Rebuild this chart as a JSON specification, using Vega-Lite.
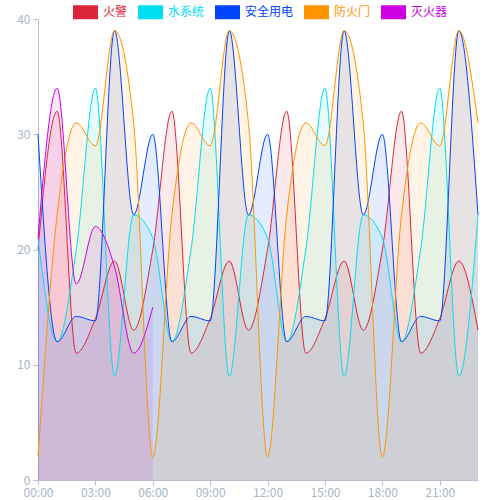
{
  "$schema": "https://vega.github.io/schema/vega-lite/v6.json",
  "autosize": {"type": "none"},
  "width": 440,
  "height": 461,
  "padding": {"left": 38, "top": 19, "right": 22, "bottom": 20},
  "background": "#ffffff",
  "config": {
    "view": {"stroke": null},
    "font": "Noto Sans CJK SC"
  },
  "data": {
    "values": [
      {"h": 0, "火警": 20, "水系统": 21, "安全用电": 30, "防火门": 2, "灭火器": 21},
      {"h": 1, "火警": 32, "水系统": 12, "安全用电": 12, "防火门": 23, "灭火器": 34},
      {"h": 2, "火警": 11, "水系统": 20, "安全用电": 14.2, "防火门": 31, "灭火器": 17},
      {"h": 3, "火警": 14, "水系统": 34, "安全用电": 13.8, "防火门": 29, "灭火器": 22},
      {"h": 4, "火警": 19, "水系统": 9, "安全用电": 39, "防火门": 39, "灭火器": 18.5},
      {"h": 5, "火警": 13, "水系统": 23, "安全用电": 23, "防火门": 31, "灭火器": 11},
      {"h": 6, "火警": 20, "水系统": 21, "安全用电": 30, "防火门": 2, "灭火器": 15},
      {"h": 7, "火警": 32, "水系统": 12, "安全用电": 12, "防火门": 23},
      {"h": 8, "火警": 11, "水系统": 20, "安全用电": 14.2, "防火门": 31},
      {"h": 9, "火警": 14, "水系统": 34, "安全用电": 13.8, "防火门": 29},
      {"h": 10, "火警": 19, "水系统": 9, "安全用电": 39, "防火门": 39},
      {"h": 11, "火警": 13, "水系统": 23, "安全用电": 23, "防火门": 31},
      {"h": 12, "火警": 20, "水系统": 21, "安全用电": 30, "防火门": 2},
      {"h": 13, "火警": 32, "水系统": 12, "安全用电": 12, "防火门": 23},
      {"h": 14, "火警": 11, "水系统": 20, "安全用电": 14.2, "防火门": 31},
      {"h": 15, "火警": 14, "水系统": 34, "安全用电": 13.8, "防火门": 29},
      {"h": 16, "火警": 19, "水系统": 9, "安全用电": 39, "防火门": 39},
      {"h": 17, "火警": 13, "水系统": 23, "安全用电": 23, "防火门": 31},
      {"h": 18, "火警": 20, "水系统": 21, "安全用电": 30, "防火门": 2},
      {"h": 19, "火警": 32, "水系统": 12, "安全用电": 12, "防火门": 23},
      {"h": 20, "火警": 11, "水系统": 20, "安全用电": 14.2, "防火门": 31},
      {"h": 21, "火警": 14, "水系统": 34, "安全用电": 13.8, "防火门": 29},
      {"h": 22, "火警": 19, "水系统": 9, "安全用电": 39, "防火门": 39},
      {"h": 23, "火警": 13, "水系统": 23, "安全用电": 23, "防火门": 31}
    ]
  },
  "transform": [
    {"fold": ["火警", "水系统", "安全用电", "防火门", "灭火器"], "as": ["series", "value"]},
    {"filter": "isValid(datum.value)"}
  ],
  "mark": {
    "type": "area",
    "interpolate": "monotone",
    "fillOpacity": 0.1,
    "line": {"strokeWidth": 1}
  },
  "encoding": {
    "x": {
      "field": "h",
      "type": "quantitative",
      "scale": {"domain": [0, 23], "nice": false, "zero": false},
      "axis": {
        "title": null,
        "values": [0, 3, 6, 9, 12, 15, 18, 21],
        "labelExpr": "(datum.value < 10 ? '0' : '') + datum.value + ':00'",
        "grid": false,
        "domainColor": "#b6c0d0",
        "tickColor": "#b6c0d0",
        "tickSize": 5,
        "labelColor": "#aab5c6",
        "labelFontSize": 12,
        "labelPadding": 2,
        "labelFlush": false
      }
    },
    "y": {
      "field": "value",
      "type": "quantitative",
      "stack": null,
      "scale": {"domain": [0, 40], "nice": false},
      "axis": {
        "title": null,
        "values": [0, 10, 20, 30, 40],
        "grid": false,
        "domainColor": "#b6c0d0",
        "tickColor": "#b6c0d0",
        "tickSize": 5,
        "labelColor": "#aab5c6",
        "labelFontSize": 12,
        "labelPadding": 3
      }
    },
    "color": {
      "field": "series",
      "type": "nominal",
      "scale": {
        "domain": ["火警", "水系统", "安全用电", "防火门", "灭火器"],
        "range": ["#dc2638", "#00def2", "#0044ff", "#ff9500", "#cc00e0"]
      },
      "legend": {
        "title": null,
        "orient": "none",
        "direction": "horizontal",
        "legendX": 35,
        "legendY": -19.5,
        "padding": 0,
        "columnPadding": 10,
        "labelOffset": 5,
        "labelFontSize": 12,
        "symbolType": "M-1,-0.56H1V0.56H-1Z",
        "symbolSize": 625,
        "symbolStrokeWidth": 0,
        "symbolOpacity": 1,
        "encode": {
          "labels": {"update": {"fill": {"scale": "color", "field": "value"}}},
          "symbols": {"update": {"fillOpacity": {"value": 1}, "opacity": {"value": 1}, "strokeWidth": {"value": 0}}}
        }
      }
    }
  }
}
